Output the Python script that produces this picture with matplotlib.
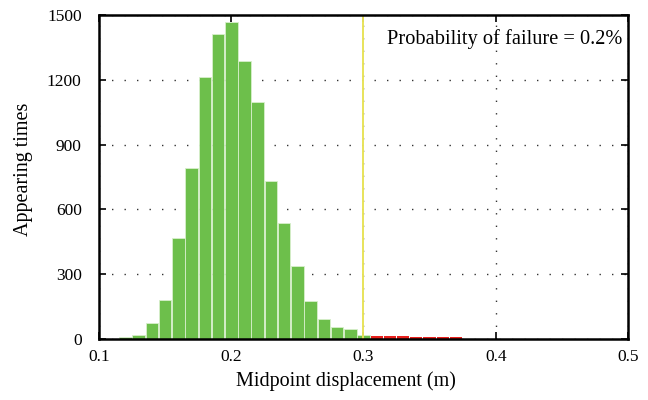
import matplotlib
matplotlib.use('Agg')
import numpy as np
import matplotlib.pyplot as plt

plt.rcParams['font.family'] = ['Liberation Serif', 'DejaVu Serif']

# bin centres (m) and counts
green_x = [0.12, 0.13, 0.14, 0.15, 0.16, 0.17, 0.18, 0.19, 0.20, 0.21,
           0.22, 0.23, 0.24, 0.25, 0.26, 0.27, 0.28, 0.29, 0.30]
green_y = [7, 17, 72, 179, 466, 790, 1213, 1410, 1469, 1285,
           1099, 731, 537, 338, 176, 93, 55, 44, 18]
red_x = [0.31, 0.32, 0.33, 0.34, 0.35, 0.36, 0.37]
red_y = [16, 14, 13, 8, 7, 7, 7]
limit = 0.3

fig = plt.figure(figsize=(6.48, 4), dpi=100)
ax = fig.add_axes([0.1528, 0.1525, 0.8162, 0.81])

ax.bar(green_x, green_y, width=0.0095, color='#6dbf4b', edgecolor='#d8efcc', lw=0.6, zorder=2)
ax.bar(red_x, red_y, width=0.0092, color='#e8201c', lw=0, zorder=2)
ax.axvline(limit, color='#e8e35a', lw=1.4, zorder=3)

ax.set_xlim(0.1, 0.5)
ax.set_ylim(0, 1500)
ax.set_xticks([0.1, 0.2, 0.3, 0.4, 0.5])
ax.set_xticklabels(['0.1', '0.2', '0.3', '0.4', '0.5'])
ax.set_yticks([0, 300, 600, 900, 1200, 1500])
ax.grid(True, ls=(0, (1, 8)), color='#333333', lw=1.0, zorder=1)
ax.set_axisbelow(True)
ax.tick_params(direction='in', top=True, right=True, length=5, width=1.2,
               labelsize=12.5, pad=7.5)
ax.tick_params(axis='y', pad=12.5)
for s in ax.spines.values():
    s.set_linewidth(1.8)
    s.set_zorder(4)

ax.set_xlabel('Midpoint displacement (m)', fontsize=14.5)
ax.set_ylabel('Appearing times', fontsize=14.5)
ax.xaxis.set_label_coords(0.466, -0.10)
ax.yaxis.set_label_coords(-0.125, 0.525)
ax.text(0.496, 1390, 'Probability of failure = 0.2%', ha='right', va='center', fontsize=14.7)

fig.savefig('out.png', dpi=100)
